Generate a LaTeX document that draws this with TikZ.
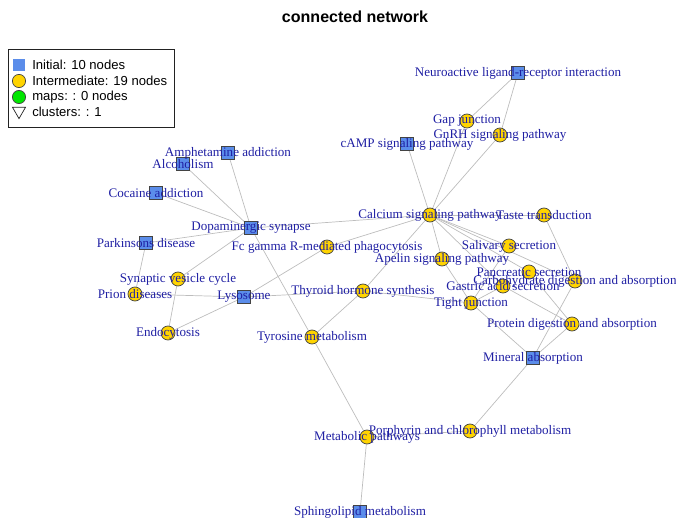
\documentclass[tikz,border=0pt]{standalone}
\usepackage{fontspec}
\setmainfont{Liberation Serif}
\setsansfont{Liberation Sans}
\usepackage{tikz}
\usetikzlibrary{shapes.geometric,backgrounds}
\definecolor{initblue}{HTML}{5B8DEA}
\definecolor{interyellow}{HTML}{FFD400}
\definecolor{mapgreen}{HTML}{00E600}
\definecolor{labelblue}{HTML}{1F1FA3}
\definecolor{edgegray}{HTML}{BDBDBD}
\definecolor{ink}{HTML}{222222}
\tikzset{
  initnode/.style={draw=ink!85,fill=initblue,minimum size=3.2mm,inner sep=0pt,line width=0.5pt},
  internode/.style={circle,draw=ink!85,fill=interyellow,minimum size=3.5mm,inner sep=0pt,line width=0.5pt},
  mapnode/.style={internode,fill=mapgreen},
  clusternode/.style={regular polygon,regular polygon sides=3,shape border rotate=180,draw=ink,fill=white,minimum size=3.8mm,inner sep=0pt,line width=0.5pt},
  link/.style={draw=edgegray,line width=0.5pt},
  lbl/.style={font=\fontsize{9.3}{10}\selectfont,text=labelblue,inner sep=0pt},
  legtext/.style={font=\sffamily\fontsize{9.3}{10}\selectfont,anchor=west,inner sep=0pt}
}

\begin{document}
\begin{tikzpicture}[x=0.025cm,y=-0.025cm]
  \useasboundingbox (0,0) rectangle (676,518);
  \node[font=\sffamily\bfseries\fontsize{11.4}{13}\selectfont] (title) at (355,17) {connected network};

  % legend
  \node[draw=ink,line width=0.5pt,anchor=north west,minimum width=4.15cm,minimum height=1.95cm,inner sep=0pt] (legbox) at (8,49) {};
  \node[initnode,draw=none,minimum size=3mm] (kinit) at (19,65) {};
  \node[internode,minimum size=3.3mm] (kinter) at (19,81) {};
  \node[mapnode,minimum size=3.3mm] (kmap) at (19,97) {};
  \node[clusternode] (kclu) at (19,111) {};
  \node[legtext] (tinit) at (32,65) {Initial: 10 nodes};
  \node[legtext] (tinter) at (32,81) {Intermediate: 19 nodes};
  \node[legtext] (tmap) at (32,97) {maps: : 0 nodes};
  \node[legtext] (tclu) at (32,112) {clusters: : 1};

  % initial pathways
  \node[initnode] (neuro) at (518,73) {};
  \node[initnode] (camp) at (407,144) {};
  \node[initnode] (amph) at (228,153) {};
  \node[initnode] (alco) at (183,164) {};
  \node[initnode] (coca) at (156,193) {};
  \node[initnode] (dopa) at (251,228) {};
  \node[initnode] (park) at (146,243) {};
  \node[initnode] (lyso) at (244,297) {};
  \node[initnode] (miner) at (533,358) {};
  \node[initnode] (sphin) at (360,512) {};

  % intermediate pathways
  \node[internode] (gap) at (467,121) {};
  \node[internode] (gnrh) at (500,135) {};
  \node[internode] (calc) at (430,215) {};
  \node[internode] (taste) at (544,215) {};
  \node[internode] (fcg) at (327,247) {};
  \node[internode] (saliv) at (509,246) {};
  \node[internode] (apel) at (442,259) {};
  \node[internode] (pancr) at (529,272) {};
  \node[internode] (carbo) at (575,281) {};
  \node[internode] (gastr) at (503,286) {};
  \node[internode] (synv) at (178,279) {};
  \node[internode] (prion) at (135,294) {};
  \node[internode] (thyr) at (363,291) {};
  \node[internode] (tight) at (471,303) {};
  \node[internode] (prot) at (572,324) {};
  \node[internode] (endo) at (168,333) {};
  \node[internode] (tyro) at (312,337) {};
  \node[internode] (porph) at (470,431) {};
  \node[internode] (metab) at (367,437) {};

  \begin{scope}[on background layer]
    \foreach \a/\b in {neuro/gap,neuro/gnrh,gap/calc,gnrh/calc,camp/calc,
      amph/dopa,alco/dopa,coca/dopa,park/dopa,synv/dopa,dopa/calc,dopa/tyro,tyro/metab,
      park/prion,synv/endo,prion/lyso,endo/lyso,lyso/fcg,lyso/thyr,thyr/tight,
      fcg/calc,thyr/calc,tyro/thyr,calc/apel,calc/taste,calc/saliv,calc/pancr,
      calc/carbo,calc/gastr,apel/tight,tight/gastr,tight/saliv,tight/miner,
      gastr/prot,pancr/prot,taste/carbo,carbo/miner,prot/miner,miner/porph,
      metab/porph,metab/sphin}
      \draw[link] (\a) -- (\b);
  \end{scope}

  % labels on top
  \foreach \n/\t in {neuro/Neuroactive ligand-receptor interaction,camp/cAMP signaling pathway,
    amph/Amphetamine addiction,alco/Alcoholism,coca/Cocaine addiction,dopa/Dopaminergic synapse,
    park/Parkinsons disease,lyso/Lysosome,miner/Mineral absorption,sphin/Sphingolipid metabolism,
    gap/Gap junction,gnrh/GnRH signaling pathway,calc/Calcium signaling pathway,
    taste/Taste transduction,fcg/Fc gamma R-mediated phagocytosis,saliv/Salivary secretion,
    apel/Apelin signaling pathway,pancr/Pancreatic secretion,carbo/Carbohydrate digestion and absorption,
    gastr/Gastric acid secretion,synv/Synaptic vesicle cycle,prion/Prion diseases,
    thyr/Thyroid hormone synthesis,tight/Tight junction,prot/Protein digestion and absorption,
    endo/Endocytosis,tyro/Tyrosine metabolism,porph/Porphyrin and chlorophyll metabolism,
    metab/Metabolic pathways}
    \node[lbl] (l\n) at (\n) {\t};
\end{tikzpicture}
\end{document}
